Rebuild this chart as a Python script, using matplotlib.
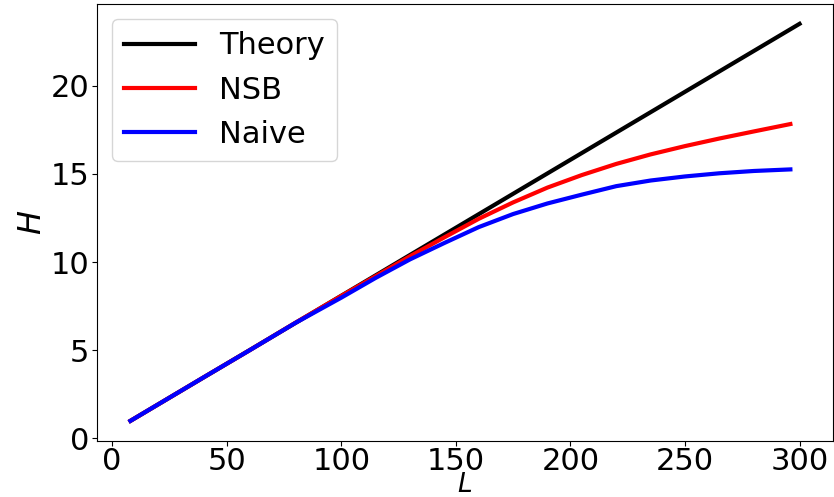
import matplotlib
matplotlib.use("Agg")
import matplotlib.pyplot as plt

# Data
L_theory = [8, 300]
H_theory = [1.0, 23.5]

L_est = [8, 40, 60, 80, 100, 115, 130, 145, 160, 175, 190, 205, 220, 235, 250, 265, 280, 296]
H_nsb = [1.0, 3.47, 5.0, 6.56, 8.08, 9.2, 10.33, 11.4, 12.45, 13.38, 14.22, 14.93,
         15.56, 16.1, 16.57, 17.0, 17.4, 17.82]
H_naive = [1.0, 3.47, 5.0, 6.55, 7.98, 9.1, 10.15, 11.08, 11.98, 12.72, 13.32, 13.82,
           14.3, 14.62, 14.85, 15.03, 15.16, 15.25]

xticks = [0, 50, 100, 150, 200, 250, 300]
yticks = [0, 5, 10, 15, 20]

fig = plt.figure(figsize=(8.34, 4.97), dpi=100)
ax = fig.add_axes([0.1163, 0.1133, 0.8825, 0.8787])

ax.plot(L_theory, H_theory, color="black", lw=3, label="Theory")
ax.plot(L_est, H_nsb, color="red", lw=3, label="NSB")
ax.plot(L_est, H_naive, color="blue", lw=3, label="Naive")

ax.set_xticks(xticks)
ax.set_yticks(yticks)
ax.tick_params(axis="x", labelsize=22, pad=1)
ax.tick_params(axis="y", labelsize=22, pad=2)
ax.set_xlabel("$L$", fontsize=19, labelpad=-3)
ax.set_ylabel("$H$", fontsize=23, labelpad=2)

ax.legend(loc="upper left", fontsize=22, handlelength=2.3)

fig.savefig("out.png", dpi=100)
